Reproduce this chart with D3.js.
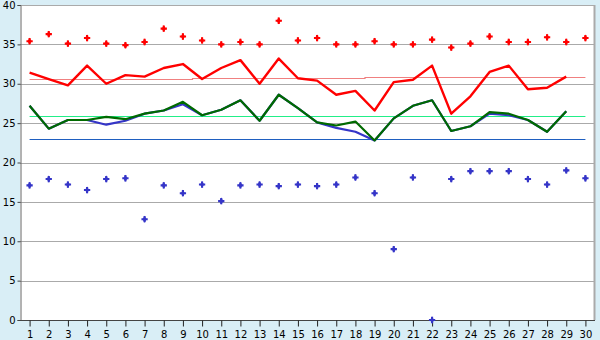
<!DOCTYPE html>
<html><head><meta charset="utf-8">
<script src="https://cdn.jsdelivr.net/npm/d3@7"></script>
<style>
html,body{margin:0;padding:0;background:#d9eef6;}
svg{display:block;}
text{font-family:"DejaVu Sans",sans-serif;font-size:10px;fill:#000;}
</style></head>
<body>
<svg id="c" width="600" height="340"></svg>
<script>
const days = [1,2,3,4,5,6,7,8,9,10,11,12,13,14,15,16,17,18,19,20,21,22,23,24,25,26,27,28,29,30];
const yTicks = [0,5,10,15,20,25,30,35,40];
const maxVals = [35.4,36.3,35.1,35.8,35.1,34.9,35.3,37.0,36.0,35.5,35.0,35.3,35.0,38.0,35.5,35.8,35.0,35.0,35.4,35.0,35.0,35.6,34.6,35.1,36.0,35.3,35.3,35.9,35.3,35.8];
const minVals = [17.1,17.9,17.2,16.5,17.9,18.0,12.8,17.1,16.1,17.2,15.1,17.1,17.2,17.0,17.2,17.0,17.2,18.1,16.1,9.0,18.1,0,17.9,18.9,18.9,18.9,17.9,17.2,19.0,18.0];
const redLine = [31.4,30.6,29.8,32.3,30.0,31.1,30.9,32.0,32.5,30.6,32.0,33.0,30.0,33.2,30.7,30.4,28.6,29.1,26.6,30.2,30.5,32.3,26.2,28.4,31.5,32.3,29.3,29.5,30.9,null];
const greenLine = [27.2,24.3,25.4,25.4,25.8,25.5,26.2,26.6,27.7,26.0,26.7,27.9,25.3,28.6,26.9,25.1,24.7,25.2,22.8,25.6,27.2,27.9,24.0,24.6,26.4,26.2,25.4,23.9,26.5,null];
const blueLine = [27.2,24.3,25.4,25.4,24.8,25.3,26.2,26.6,27.4,26.0,26.7,27.9,25.3,28.6,26.9,25.1,24.4,23.9,22.8,25.6,27.2,27.9,24.0,24.6,26.2,26.0,25.4,23.9,26.5,null];
const redStep = [30.55,30.55,30.55,30.55,30.55,30.55,30.55,30.55,30.55,30.7,30.7,30.7,30.7,30.7,30.7,30.7,30.7,30.7,30.83,30.83,30.83,30.83,30.83,30.83,30.83,30.83,30.83,30.83,30.83,30.83];
const greenRef = 25.9;
const blueRef = 22.95;

const L=20, R=595, T=5, B=320;
const svg = d3.select("#c");
const x = d3.scalePoint().domain(days).range([L,R]).padding(0.5);
const y = d3.scaleLinear().domain([0,40]).range([B,T]);

svg.append("rect").attr("x",L).attr("y",T).attr("width",R-L).attr("height",B-T).attr("fill","#fff");

// grid
svg.append("g").selectAll("line").data(yTicks.filter(v=>v>0)).join("line")
  .attr("x1",L).attr("x2",R).attr("y1",d=>Math.round(y(d))+0.5).attr("y2",d=>Math.round(y(d))+0.5)
  .attr("stroke","#aaa").attr("stroke-width",1.2);
// right border
svg.append("line").attr("x1",R-0.5).attr("x2",R-0.5).attr("y1",T).attr("y2",B)
  .attr("stroke","#aaa").attr("stroke-width",2);

// axes
const yAxis = d3.axisLeft(y).tickValues(yTicks).tickSize(3).tickPadding(2);
const gy = svg.append("g").attr("transform",`translate(${L+0.5},0)`).call(yAxis);
gy.select(".domain").attr("stroke","#666");
gy.selectAll(".tick line").attr("stroke","#444");
gy.selectAll("text").style("font-size","10px");

const xAxis = d3.axisBottom(x).tickSize(6).tickPadding(4);
const gx = svg.append("g").attr("transform",`translate(0,${B+0.5})`).call(xAxis);
gx.select(".domain").attr("stroke","#444").attr("d",`M${L},0H${R}`);
gx.selectAll(".tick line").attr("stroke","#222");
gx.selectAll("text").style("font-size","10px");

const x0 = x(days[0]), x1 = x(days[days.length-1]);
// reference lines
svg.append("line").attr("x1",x0).attr("x2",x1).attr("y1",Math.round(y(greenRef))+0.5).attr("y2",Math.round(y(greenRef))+0.5)
  .attr("stroke","#22ee88").attr("stroke-width",1.2);
svg.append("line").attr("x1",x0).attr("x2",x1).attr("y1",Math.round(y(blueRef))+0.5).attr("y2",Math.round(y(blueRef))+0.5)
  .attr("stroke","#1f5fc0").attr("stroke-width",1.2);

const stepLine = d3.line().x((d,i)=>x(days[i])).y(d=>Math.round(y(d))+0.5).curve(d3.curveStep);
svg.append("path").attr("d",stepLine(redStep)).attr("fill","none")
  .attr("stroke","#f08080").attr("stroke-width",1.2);

const line = d3.line().defined(d=>d!=null).x((d,i)=>x(days[i])).y(d=>y(d));
svg.append("path").attr("d",line(blueLine)).attr("fill","none")
  .attr("stroke","#3535c8").attr("stroke-width",2.2).attr("stroke-linejoin","round");
svg.append("path").attr("d",line(greenLine)).attr("fill","none")
  .attr("stroke","#006a00").attr("stroke-width",2.2).attr("stroke-linejoin","round");
svg.append("path").attr("d",line(redLine)).attr("fill","none")
  .attr("stroke","#ff0000").attr("stroke-width",2.4).attr("stroke-linejoin","round");

const cross = d3.symbol().type(d3.symbolCross).size(22);
const diamond = d3.symbol().type(d3.symbolDiamond).size(14);
function markers(vals, color){
  const g = svg.append("g").selectAll("g").data(vals).join("g")
    .attr("transform",(d,i)=>`translate(${x(days[i])},${y(d)})`).attr("fill",color);
  g.append("path").attr("d",cross);
  g.append("path").attr("d",diamond);
}
markers(maxVals, "#ff0000");
markers(minVals, "#3535c8");
</script>
</body></html>
